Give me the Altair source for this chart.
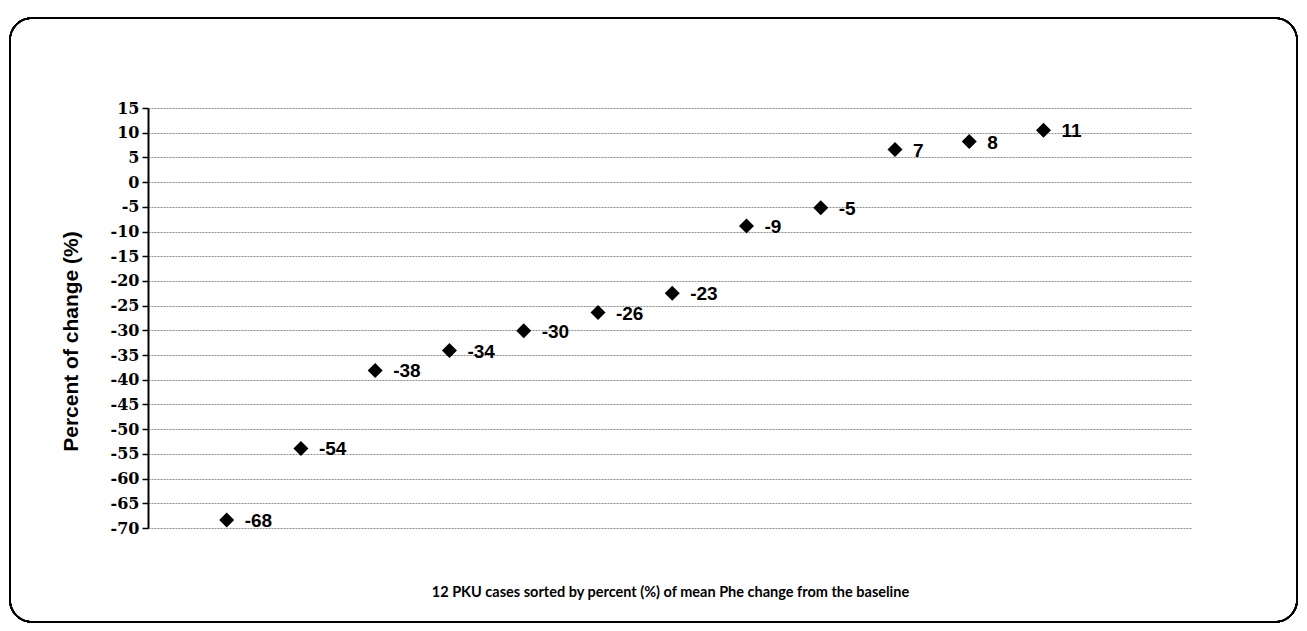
import altair as alt
import pandas as pd

case_index = [1, 2, 3, 4, 5, 6, 7, 8, 9, 10, 11, 12]
pct_change = [-68.4, -53.9, -38.1, -34.1, -30.1, -26.4, -22.5, -8.9, -5.2, 6.6, 8.2, 10.5]
label_text = ["-68", "-54", "-38", "-34", "-30", "-26", "-23", "-9", "-5", "7", "8", "11"]
y_ticks = [15, 10, 5, 0, -5, -10, -15, -20, -25, -30, -35, -40, -45, -50, -55, -60, -65, -70]

df = pd.DataFrame({"case": case_index, "pct": pct_change, "label": label_text})

W, H = 1044, 420

xs = alt.X("case:Q", scale=alt.Scale(domain=[-0.06, 14], nice=False),
           axis=alt.Axis(title="12 PKU cases sorted by percent (%) of mean Phe change from the baseline",
                         labels=False, ticks=False, domain=False, grid=False,
                         titleFont="Lato", titleFontSize=14.5, titleFontWeight="bold",
                         titleColor="black", titlePadding=57))
ys = alt.Y("pct:Q", scale=alt.Scale(domain=[-70, 15], nice=False),
           axis=alt.Axis(title="Percent of change (%)", values=y_ticks,
                         labelExpr="toString(datum.value)", labelOverlap=False,
                         labelFont="DejaVu Serif", labelFontSize=16, labelFontWeight="bold",
                         labelColor="black", labelPadding=3,
                         tickSize=6, tickColor="black", tickWidth=1.5,
                         domainColor="black", domainWidth=2,
                         grid=True, gridColor="#8c8c8c", gridDash=[2, 1], gridWidth=1,
                         titleFont="Liberation Sans", titleFontSize=21, titleFontWeight="bold",
                         titleColor="black", titleX=-77, titleY=233,
                         titleAngle=270, titleAlign="center", titleBaseline="middle"))

frame = alt.Chart(df).mark_rect(fill=None, stroke="black", strokeWidth=1.5,
                                cornerRadius=22, clip=False).encode(
    x=alt.value(-138), x2=alt.value(1149),
    y=alt.value(-90), y2=alt.value(94 + H)
)

points = alt.Chart(df).mark_point(shape="diamond", filled=True, color="black",
                                  size=225, opacity=1).encode(x=xs, y=ys)

labels = alt.Chart(df).mark_text(align="left", baseline="middle", dx=18, dy=1,
                                 font="Liberation Sans", fontSize=19, fontWeight="bold",
                                 color="black").encode(x=xs, y=ys, text="label:N")

chart = alt.layer(frame, points, labels).properties(
    width=W, height=H,
    background="white",
    autosize=alt.AutoSizeParams(type="none"),
    padding={"left": 140, "top": 100, "right": 107, "bottom": 95},
).configure_view(strokeWidth=0, stroke=None)

chart.save("out.html", embed_options={"renderer": "svg", "actions": False})
